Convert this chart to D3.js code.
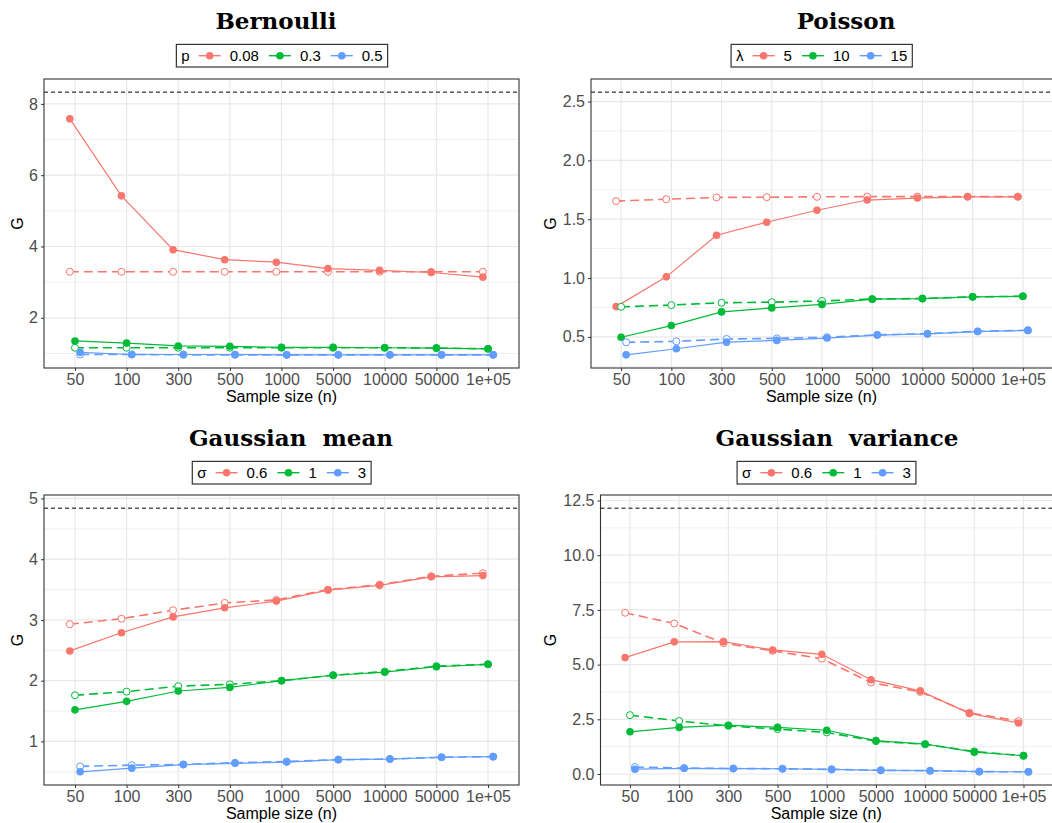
<!DOCTYPE html>
<html lang="en">
<head>
	<meta charset="UTF-8">
	<title>G vs sample size</title>
	<script src="https://cdn.jsdelivr.net/npm/d3@7/dist/d3.min.js"></script>
	<style>
		body { margin: 0; background: #fff; }
		text { font-family: "Liberation Sans", Arial, sans-serif; }
	</style>
</head>
<body>
	<div id="container"></div>
	<script>
		var width = 1052, height = 823;

		var sampleSizes = ["50", "100", "300", "500", "1000", "5000", "10000", "50000", "1e+05"];
		var colors = ["#F8766D", "#00BA38", "#619CFF"];

		// Bernoulli
		var bernLevels = ["0.08", "0.3", "0.5"];
		var bernSolid = [
			[7.58, 5.42, 3.91, 3.63, 3.56, 3.38, 3.33, 3.27, 3.14],
			[1.35, 1.29, 1.21, 1.20, 1.17, 1.17, 1.16, 1.15, 1.13],
			[1.03, 0.97, 0.97, 0.97, 0.96, 0.96, 0.96, 0.96, 0.96]
		];
		var bernDashed = [
			[3.29, 3.29, 3.29, 3.29, 3.29, 3.29, 3.29, 3.29, 3.29],
			[1.16, 1.16, 1.16, 1.16, 1.16, 1.16, 1.16, 1.15, 1.13],
			[0.97, 0.97, 0.96, 0.96, 0.96, 0.96, 0.96, 0.96, 0.96]
		];
		var bernTicks = [2, 4, 6, 8];
		var bernRef = 8.33;

		// Poisson
		var poisLevels = ["5", "10", "15"];
		var poisSolid = [
			[0.757, 1.01, 1.364, 1.474, 1.576, 1.663, 1.68, 1.69, 1.69],
			[0.497, 0.596, 0.712, 0.746, 0.776, 0.82, 0.825, 0.84, 0.845],
			[0.347, 0.399, 0.455, 0.47, 0.49, 0.515, 0.525, 0.545, 0.555]
		];
		var poisDashed = [
			[1.654, 1.67, 1.685, 1.687, 1.69, 1.692, 1.692, 1.692, 1.692],
			[0.755, 0.77, 0.79, 0.795, 0.805, 0.822, 0.826, 0.84, 0.845],
			[0.454, 0.462, 0.482, 0.487, 0.497, 0.517, 0.527, 0.547, 0.556]
		];
		var poisTicks = [0.5, 1.0, 1.5, 2.0, 2.5];
		var poisRef = 2.58;

		// Gaussian mean
		var gmLevels = ["0.6", "1", "3"];
		var gmSolid = [
			[2.49, 2.79, 3.05, 3.20, 3.31, 3.49, 3.57, 3.71, 3.73],
			[1.52, 1.66, 1.83, 1.89, 2.00, 2.09, 2.14, 2.23, 2.27],
			[0.50, 0.56, 0.62, 0.64, 0.66, 0.70, 0.71, 0.74, 0.75]
		];
		var gmDashed = [
			[2.93, 3.02, 3.16, 3.28, 3.33, 3.50, 3.58, 3.72, 3.77],
			[1.76, 1.82, 1.91, 1.94, 2.00, 2.09, 2.15, 2.24, 2.27],
			[0.59, 0.61, 0.62, 0.65, 0.67, 0.70, 0.71, 0.74, 0.75]
		];
		var gmTicks = [1, 2, 3, 4, 5];
		var gmRef = 4.84;

		// Gaussian variance
		var gvLevels = ["0.6", "1", "3"];
		var gvSolid = [
			[5.32, 6.04, 6.05, 5.67, 5.47, 4.31, 3.80, 2.77, 2.33],
			[1.93, 2.13, 2.23, 2.13, 2.00, 1.53, 1.37, 1.00, 0.84],
			[0.22, 0.26, 0.25, 0.24, 0.21, 0.17, 0.15, 0.11, 0.10]
		];
		var gvDashed = [
			[7.37, 6.88, 5.98, 5.63, 5.27, 4.18, 3.75, 2.80, 2.42],
			[2.69, 2.42, 2.20, 2.05, 1.90, 1.50, 1.36, 1.03, 0.83],
			[0.32, 0.27, 0.25, 0.24, 0.21, 0.17, 0.15, 0.11, 0.10]
		];
		var gvTicks = [0, 2.5, 5, 7.5, 10, 12.5];
		var gvRef = 12.15;

		var panels = [
			{title: "Bernoulli", sym: "p", levels: bernLevels, solid: bernSolid, dashed: bernDashed,
			 ticks: bernTicks, fmt: d3.format("d"), ref: bernRef,
			 box: {l: 44, r: 519, t: 79, b: 368}, titleX: 276, titleY: 29, legX: 282, legY: 55.7, gX: 17},
			{title: "Poisson", sym: "\u03bb", levels: poisLevels, solid: poisSolid, dashed: poisDashed,
			 ticks: poisTicks, fmt: d3.format(".1f"), ref: poisRef,
			 box: {l: 591, r: 1053, t: 79, b: 368}, titleX: 846, titleY: 29, legX: 821.7, legY: 55.7, gX: 550},
			{title: "Gaussian  mean", sym: "\u03c3", levels: gmLevels, solid: gmSolid, dashed: gmDashed,
			 ticks: gmTicks, fmt: d3.format("d"), ref: gmRef,
			 box: {l: 44, r: 519, t: 495, b: 785}, titleX: 291, titleY: 446, legX: 281.7, legY: 472.7, gX: 17},
			{title: "Gaussian  variance", sym: "\u03c3", levels: gvLevels, solid: gvSolid, dashed: gvDashed,
			 ticks: gvTicks, fmt: d3.format(".1f"), ref: gvRef,
			 box: {l: 600.5, r: 1053, t: 495, b: 785}, titleX: 837, titleY: 446, legX: 826.5, legY: 472.7, gX: 550}
		];

		var svg = d3.select("#container").append("svg")
			.attr("width", width)
			.attr("height", height);

		panels.forEach(function(p) {
			var b = p.box;
			var g = svg.append("g");

			var x = d3.scalePoint()
				.domain(sampleSizes)
				.range([b.l, b.r])
				.padding(0.6);
			var step = x.step();
			var dodge = [-0.1 * step, 0, 0.1 * step];

			var all = d3.merge(p.solid.concat(p.dashed)).concat([p.ref]);
			var ext = d3.extent(all);
			var pad = (ext[1] - ext[0]) * 0.05;
			var y = d3.scaleLinear()
				.domain([ext[0] - pad, ext[1] + pad])
				.range([b.b, b.t]);

			// minor grid
			var minors = [];
			var dt = p.ticks[1] - p.ticks[0];
			for (var i = -1; i < p.ticks.length; i++) {
				var v = (i < 0 ? p.ticks[0] - dt / 2 : p.ticks[i] + dt / 2);
				if (v > y.domain()[0] && v < y.domain()[1]) minors.push(v);
			}
			g.selectAll(".minor").data(minors)
				.enter().append("line")
					.attr("x1", b.l).attr("x2", b.r)
					.attr("y1", d => y(d)).attr("y2", d => y(d))
					.style("stroke", "#f0f0f0").style("stroke-width", 1);
			g.selectAll(".major").data(p.ticks)
				.enter().append("line")
					.attr("x1", b.l).attr("x2", b.r)
					.attr("y1", d => y(d)).attr("y2", d => y(d))
					.style("stroke", "#e8e8e8").style("stroke-width", 1.2);
			g.selectAll(".vgrid").data(sampleSizes)
				.enter().append("line")
					.attr("x1", d => x(d)).attr("x2", d => x(d))
					.attr("y1", b.t).attr("y2", b.b)
					.style("stroke", "#e8e8e8").style("stroke-width", 1.2);

			// reference line
			g.append("line")
				.attr("x1", b.l).attr("x2", b.r)
				.attr("y1", y(p.ref)).attr("y2", y(p.ref))
				.style("stroke", "#000").style("stroke-width", 1)
				.style("stroke-dasharray", "4,3");

			var line = function(k) {
				return d3.line()
					.x((d, i) => x(sampleSizes[i]) + dodge[k])
					.y(d => y(d));
			};

			p.levels.forEach(function(lev, k) {
				g.append("path")
					.attr("d", line(k)(p.dashed[k]))
					.attr("fill", "none")
					.style("stroke", colors[k]).style("stroke-width", 1.6)
					.style("stroke-dasharray", "9,5");
				g.selectAll(".open" + k).data(p.dashed[k])
					.enter().append("circle")
						.attr("cx", (d, i) => x(sampleSizes[i]) + dodge[k])
						.attr("cy", d => y(d))
						.attr("r", 3.5)
						.attr("fill", "#fff")
						.style("stroke", colors[k]).style("stroke-width", 1);
				g.append("path")
					.attr("d", line(k)(p.solid[k]))
					.attr("fill", "none")
					.style("stroke", colors[k]).style("stroke-width", 1.2);
				g.selectAll(".filled" + k).data(p.solid[k])
					.enter().append("circle")
						.attr("cx", (d, i) => x(sampleSizes[i]) + dodge[k])
						.attr("cy", d => y(d))
						.attr("r", 3.8)
						.attr("fill", colors[k]);
			});

			// panel border
			g.append("rect")
				.attr("x", b.l).attr("y", b.t)
				.attr("width", b.r - b.l).attr("height", b.b - b.t)
				.attr("fill", "none")
				.style("stroke", "#333").style("stroke-width", 1.1);

			// axes
			var xAxis = d3.axisBottom(x).tickSize(3).tickPadding(3);
			var xg = g.append("g").attr("transform", "translate(0," + b.b + ")").call(xAxis);
			var yAxis = d3.axisLeft(y).tickValues(p.ticks).tickFormat(p.fmt).tickSize(3).tickPadding(3);
			var yg = g.append("g").attr("transform", "translate(" + b.l + ",0)").call(yAxis);
			[xg, yg].forEach(function(a) {
				a.select(".domain").remove();
				a.selectAll(".tick line").style("stroke", "#333");
				a.selectAll("text").style("font-size", "16px").style("fill", "#4d4d4d")
					.style("font-family", "'Liberation Sans', Arial, sans-serif");
			});

			// axis titles
			g.append("text")
				.attr("x", (b.l + Math.min(b.r, 1052)) / 2)
				.attr("y", b.b + 34)
				.attr("text-anchor", "middle")
				.style("font-size", "16px")
				.text("Sample size (n)");
			g.append("text")
				.attr("transform", "translate(" + (p.gX + 6) + "," + ((b.t + b.b) / 2) + ") rotate(-90)")
				.attr("text-anchor", "middle")
				.style("font-size", "16px")
				.text("G");

			// title
			g.append("text")
				.attr("x", p.titleX).attr("y", p.titleY)
				.attr("text-anchor", "middle")
				.style("font-family", "'DejaVu Serif', serif")
				.style("font-weight", "bold")
				.style("font-size", "23px")
				.style("white-space", "pre")
				.text(p.title);

			// legend
			var legRect = g.append("rect");
			var leg = g.append("g");
			var cx = 0;
			var sym = leg.append("text").attr("x", cx).attr("y", 5.5)
				.style("font-size", "15px").text(p.sym);
			cx += sym.node().getComputedTextLength() + 9;
			p.levels.forEach(function(lev, k) {
				leg.append("line")
					.attr("x1", cx).attr("x2", cx + 22)
					.attr("y1", 0).attr("y2", 0)
					.style("stroke", colors[k]).style("stroke-width", 1.4);
				leg.append("circle").attr("cx", cx + 11).attr("cy", 0).attr("r", 3.8).attr("fill", colors[k]);
				cx += 22 + 9;
				var t = leg.append("text").attr("x", cx).attr("y", 5.5)
					.style("font-size", "15px").text(lev);
				cx += t.node().getComputedTextLength() + 10;
			});
			var bw = cx - 10 + 10;
			var left = p.legX - bw / 2;
			leg.attr("transform", "translate(" + (left + 5) + "," + p.legY + ")");
			legRect
				.attr("x", left).attr("y", p.legY - 11.3)
				.attr("width", bw).attr("height", 22.6)
				.attr("fill", "#fff")
				.style("stroke", "#333").style("stroke-width", 1.2);
		});
	</script>
</body>
</html>
